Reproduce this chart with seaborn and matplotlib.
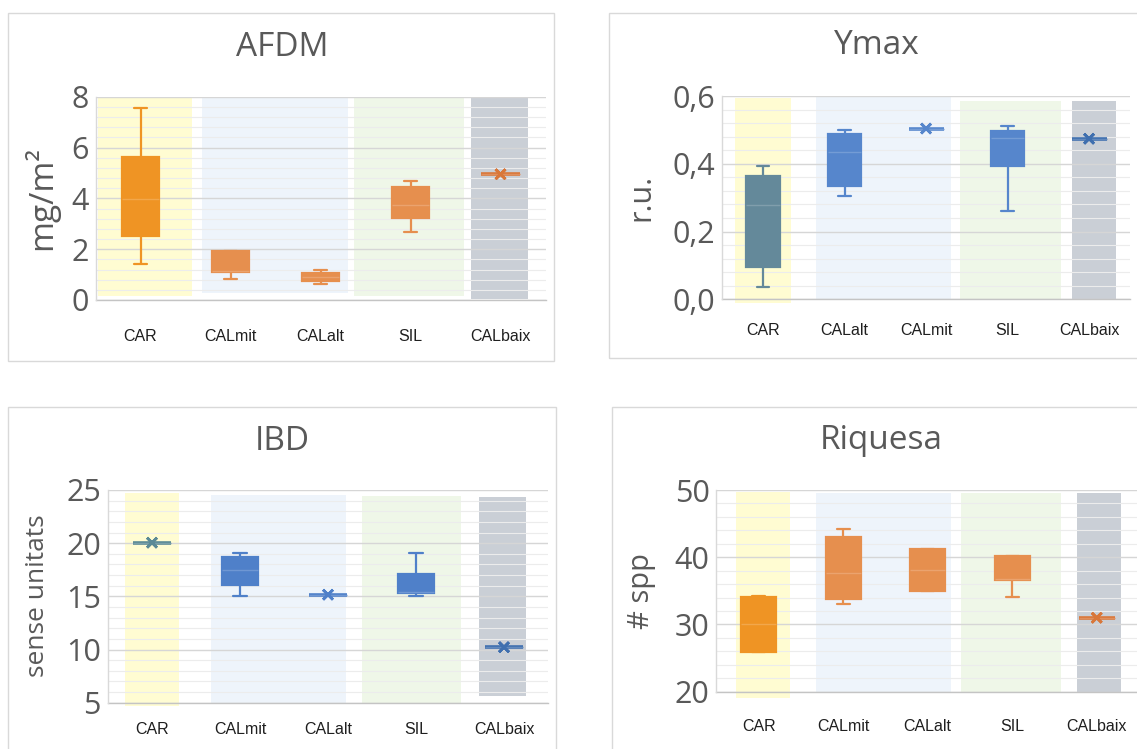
import numpy as np
import pandas as pd
import matplotlib
matplotlib.use("Agg")
import matplotlib.pyplot as plt
from matplotlib.patches import Rectangle
from matplotlib.ticker import MultipleLocator, FixedLocator, FixedFormatter
import seaborn as sns

# ---------------- data: five-number summaries per site ----------------
# AFDM (mg/m2)
afdm_sites = ["CAR", "CALmit", "CALalt", "SIL", "CALbaix"]
afdm_min = [1.40, 0.83, 0.63, 2.68, 4.95]
afdm_q1 = [2.52, 1.11, 0.76, 3.22, 4.95]
afdm_med = [3.96, 1.15, 0.89, 3.73, 4.95]
afdm_q3 = [5.62, 1.92, 1.05, 4.46, 4.95]
afdm_max = [7.55, 1.92, 1.18, 4.70, 4.95]
afdm_yticks = [0, 2, 4, 6, 8]
afdm_yticklabels = ["0", "2", "4", "6", "8"]

# Ymax (r.u.)
ymax_sites = ["CAR", "CALalt", "CALmit", "SIL", "CALbaix"]
ymax_min = [0.037, 0.306, 0.504, 0.262, 0.474]
ymax_q1 = [0.096, 0.334, 0.504, 0.394, 0.474]
ymax_med = [0.277, 0.435, 0.504, 0.475, 0.474]
ymax_q3 = [0.364, 0.487, 0.504, 0.498, 0.474]
ymax_max = [0.394, 0.500, 0.504, 0.512, 0.474]
ymax_yticks = [0.0, 0.2, 0.4, 0.6]
ymax_yticklabels = ["0,0", "0,2", "0,4", "0,6"]

# IBD (sense unitats)
ibd_sites = ["CAR", "CALmit", "CALalt", "SIL", "CALbaix"]
ibd_min = [20.05, 15.07, 15.16, 15.04, 10.22]
ibd_q1 = [20.05, 16.07, 15.16, 15.35, 10.22]
ibd_med = [20.05, 17.48, 15.16, 15.45, 10.22]
ibd_q3 = [20.05, 18.73, 15.16, 17.08, 10.22]
ibd_max = [20.05, 19.08, 15.16, 19.11, 10.22]
ibd_yticks = [5, 10, 15, 20, 25]
ibd_yticklabels = ["5", "10", "15", "20", "25"]

# Riquesa (# spp)
riq_sites = ["CAR", "CALmit", "CALalt", "SIL", "CALbaix"]
riq_min = [25.9, 33.1, 35.0, 34.1, 31.0]
riq_q1 = [25.9, 33.8, 35.0, 36.6, 31.0]
riq_med = [30.0, 37.6, 38.1, 36.8, 31.0]
riq_q3 = [34.1, 43.0, 41.2, 40.2, 31.0]
riq_max = [34.2, 44.2, 41.2, 40.2, 31.0]
riq_yticks = [20, 30, 40, 50]
riq_yticklabels = ["20", "30", "40", "50"]

# ---------------- styling ----------------
sns.set_theme(style="white")
plt.rcParams["font.family"] = ["Open Sans", "DejaVu Sans"]

GREY_TXT = "#595959"
ORANGE_CAR = "#EF9424"
ORANGE = "#E68F4E"
TEAL = "#64899A"
BLUE = "#5686CC"
TEAL_IBD = "#5B8A96"
BLUE_IBD = "#4F80C9"

BAND_YELLOW = "#FFFCD2"
BAND_BLUE = "#EEF4FB"
BAND_GREEN = "#EFF7E8"
BAND_GREY = "#CACFD6"

W, H = 1137, 749
fig = plt.figure(figsize=(W / 100, H / 100), dpi=100)
fig.patch.set_facecolor("white")


def px_rect(l, t, r, b):
    return [l / W, 1 - b / H, (r - l) / W, (b - t) / H]


def long_frame(sites, mn, q1, md, q3, mx):
    rows = []
    for s, a, b, c, d, e in zip(sites, mn, q1, md, q3, mx):
        for v in (a, b, c, d, e):
            rows.append({"site": s, "value": v})
    return pd.DataFrame(rows)


def lighten(c, f=0.18):
    rgb = np.array(matplotlib.colors.to_rgb(c))
    return tuple(rgb + (1 - rgb) * f)


panels = [
    dict(sites=afdm_sites, stats=(afdm_min, afdm_q1, afdm_med, afdm_q3, afdm_max),
         colors=[ORANGE_CAR, ORANGE, ORANGE, ORANGE, "#D9773A"],
         ax_px=(95.5, 96.7, 545.5, 300), frame=(8.3, 13.3, 554.3, 360.7),
         ylim=(0, 8), yticks=afdm_yticks, yticklabels=afdm_yticklabels, minor=0.4,
         bands=[(-0.47, 0.57, 0.16, 8.0, BAND_YELLOW), (0.68, 2.30, 0.29, 8.0, BAND_BLUE),
                (2.37, 3.59, 0.16, 8.0, BAND_GREEN), (3.67, 4.30, 0.05, 8.0, BAND_GREY)],
         title="AFDM", title_xy=(282, 47), ylabel="mg/m²", ylabel_xy=(41, 198),
         ylabel_size=24, xpad=21),
    dict(sites=ymax_sites, stats=(ymax_min, ymax_q1, ymax_med, ymax_q3, ymax_max),
         colors=[TEAL, BLUE, BLUE, BLUE, "#3F6FAF"],
         ax_px=(722.3, 96.0, 1129.8, 299.3), frame=(609.3, 13.3, 1140, 358.3),
         ylim=(0, 0.6), yticks=ymax_yticks, yticklabels=ymax_yticklabels, minor=0.04,
         bands=[(-0.34, 0.34, -0.01, 0.594, BAND_YELLOW), (0.65, 2.30, 0.0, 0.6, BAND_BLUE),
                (2.42, 3.66, 0.0, 0.585, BAND_GREEN), (3.79, 4.33, 0.0, 0.585, BAND_GREY)],
         title="Ymax", title_xy=(877, 46), ylabel="r.u.", ylabel_xy=(641, 197),
         ylabel_size=22, xpad=17),
    dict(sites=ibd_sites, stats=(ibd_min, ibd_q1, ibd_med, ibd_q3, ibd_max),
         colors=[TEAL_IBD, BLUE_IBD, BLUE_IBD, BLUE_IBD, "#3F6FAF"],
         ax_px=(108, 490, 548, 702.7), frame=(8.3, 407, 556, 752),
         ylim=(5, 25), yticks=ibd_yticks, yticklabels=ibd_yticklabels, minor=1,
         bands=[(-0.31, 0.31, 4.7, 24.7, BAND_YELLOW), (0.67, 2.20, 5.0, 24.5, BAND_BLUE),
                (2.39, 3.51, 4.9, 24.4, BAND_GREEN), (3.72, 4.25, 5.6, 24.3, BAND_GREY)],
         title="IBD", title_xy=(282, 442), ylabel="sense unitats", ylabel_xy=(38, 596),
         ylabel_size=19, xpad=14),
    dict(sites=riq_sites, stats=(riq_min, riq_q1, riq_med, riq_q3, riq_max),
         colors=[ORANGE_CAR, ORANGE, ORANGE, ORANGE, "#D9773A"],
         ax_px=(716.5, 490, 1139, 691.7), frame=(611.7, 407, 1140, 752),
         ylim=(20, 50), yticks=riq_yticks, yticklabels=riq_yticklabels, minor=2,
         bands=[(-0.27, 0.37, 19.1, 49.75, BAND_YELLOW), (0.68, 2.27, 20.0, 49.6, BAND_BLUE),
                (2.39, 3.58, 20.0, 49.5, BAND_GREEN), (3.77, 4.29, 20.0, 49.6, BAND_GREY)],
         title="Riquesa", title_xy=(881, 441), ylabel="# spp", ylabel_xy=(641, 591),
         ylabel_size=21, xpad=20),
]

for p in panels:
    # chart-area frame
    l, t, r, b = p["frame"]
    fig.patches.append(Rectangle((l / W, 1 - b / H), (r - l) / W, (b - t) / H,
                                 transform=fig.transFigure, fill=False,
                                 edgecolor="#D9D9D9", linewidth=1.0))

    ax = fig.add_axes(px_rect(*p["ax_px"]))
    ax.set_facecolor("none")
    sites = p["sites"]
    df = long_frame(sites, *p["stats"])
    mins, maxs = p["stats"][0], p["stats"][4]

    for i, s in enumerate(sites):
        c = p["colors"][i]
        sub = df[df["site"] == s]
        flat = mins[i] == maxs[i]
        sns.boxplot(data=sub, x="site", y="value", order=sites, color=c, linecolor=c,
                    saturation=1, width=0.43 if flat else 0.41, whis=(0, 100),
                    linewidth=2.6 if flat else 1.6,
                    fliersize=0, capwidths=0.0 if flat else 0.15,
                    medianprops=dict(color=lighten(c), linewidth=1.0),
                    ax=ax, zorder=3)

    single = df[df["site"].isin([s for s, a, e in zip(sites, mins, maxs) if a == e])]
    if len(single):
        pal = {s: p["colors"][i] for i, s in enumerate(sites)}
        sns.stripplot(data=single, x="site", y="value", hue="site", order=sites,
                      palette=pal, marker="x", jitter=False, size=7, linewidth=1.8,
                      legend=False, ax=ax, zorder=4)

    # background bands behind each group of sites
    for x0, x1, y0, y1, col in p["bands"]:
        ax.add_patch(Rectangle((x0, y0), x1 - x0, y1 - y0, facecolor=col,
                               edgecolor="none", zorder=0.2, clip_on=False))

    ax.set_xlim(-0.5, len(sites) - 0.5)
    ax.set_ylim(*p["ylim"])
    ax.set_axisbelow(True)
    ax.yaxis.set_major_locator(FixedLocator(p["yticks"]))
    ax.yaxis.set_major_formatter(FixedFormatter(p["yticklabels"]))
    ax.yaxis.set_minor_locator(MultipleLocator(p["minor"]))
    ax.grid(which="major", axis="y", color="#D6D6D6", linewidth=1.0)
    ax.grid(which="minor", axis="y", color="#ECECEC", linewidth=0.8)
    ax.grid(which="major", axis="x", visible=False)
    ax.tick_params(axis="y", which="both", length=0, pad=5, labelsize=22,
                   labelcolor=GREY_TXT)
    ax.tick_params(axis="x", length=0, pad=p["xpad"], labelsize=11.5, labelcolor="#1F1F1F")
    for lab in ax.get_xticklabels():
        lab.set_fontfamily(["Liberation Sans", "DejaVu Sans"])
    ax.set_xlabel("")
    ax.set_ylabel("")
    for side in ("top", "right"):
        ax.spines[side].set_visible(False)
    ax.spines["left"].set_color("#D9D9D9")
    ax.spines["left"].set_linewidth(1.0)
    ax.spines["bottom"].set_color("#C4C4C4")
    ax.spines["bottom"].set_linewidth(1.0)
    ax.spines["bottom"].set_zorder(0.6)

    tx, ty = p["title_xy"]
    fig.text(tx / W, 1 - ty / H, p["title"], ha="center", va="center",
             fontsize=24, color=GREY_TXT)
    lx, ly = p["ylabel_xy"]
    fig.text(lx / W, 1 - ly / H, p["ylabel"], ha="center", va="center",
             rotation=90, fontsize=p["ylabel_size"], color=GREY_TXT)

fig.savefig("out.png", dpi=100, facecolor="white")
